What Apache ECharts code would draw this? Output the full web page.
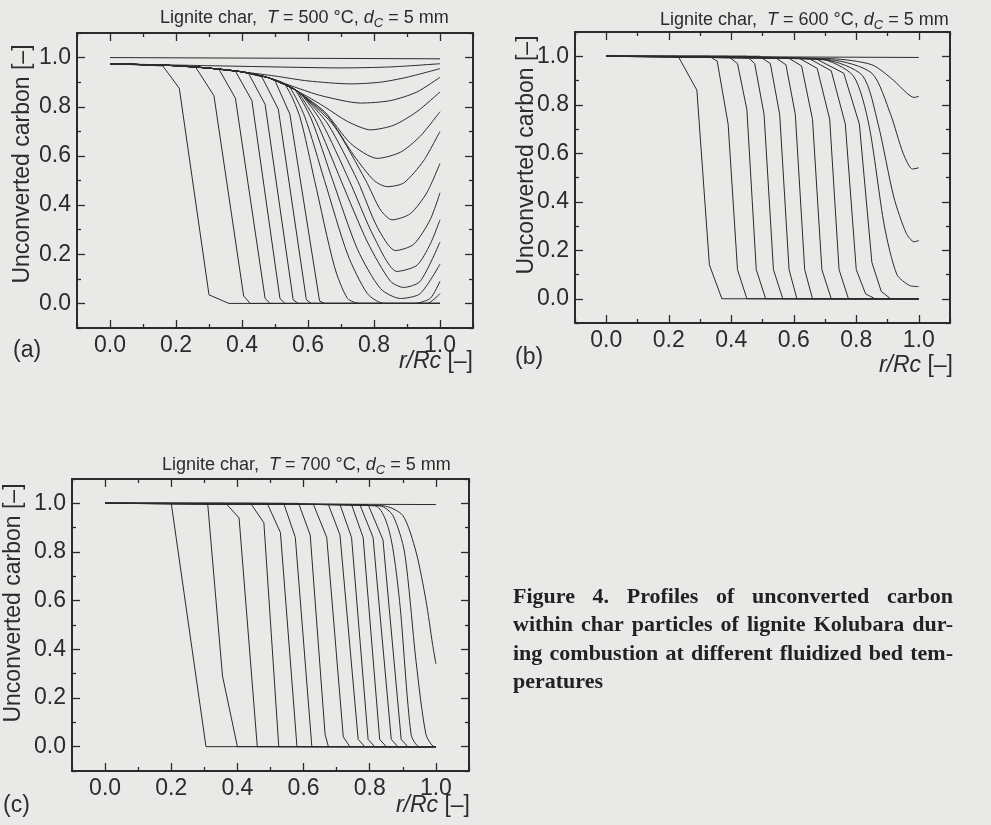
<!DOCTYPE html>
<html>
<head>
<meta charset="utf-8">
<script src="https://cdn.jsdelivr.net/npm/echarts@6/dist/echarts.min.js"></script>
<style>
  html, body { margin: 0; padding: 0; background: #e9e9e7; }
  #main { width: 991px; height: 825px; }
</style>
</head>
<body>
<div id="main"></div>
<script>
  // ---- data: profiles of unconverted carbon vs r/Rc ----
  // (a) 500 °C : shared upper path, then each profile's own tail
  var envA = [[0, 0.975], [0.2, 0.967], [0.3, 0.957], [0.4, 0.942], [0.48, 0.918], [0.53, 0.89], [0.56, 0.87], [0.58, 0.85]];
  var flatA = [[[0, 1.0], [1, 0.995]], [[0, 0.975], [0.3, 0.967], [0.5, 0.962], [0.7, 0.958], [0.85, 0.962], [1, 0.975]]];
  var tailsA = [
    [[0.4, 0.942], [0.5, 0.925], [0.6, 0.905], [0.73, 0.893], [0.82, 0.9], [0.9, 0.92], [1, 0.955]],
    [[0.48, 0.918], [0.56, 0.88], [0.64, 0.845], [0.76, 0.815], [0.85, 0.825], [0.93, 0.86], [1, 0.92]],
    [[0.53, 0.89], [0.6, 0.84], [0.65, 0.80], [0.72, 0.74], [0.79, 0.706], [0.86, 0.725], [0.93, 0.78], [1, 0.86]],
    [[0.56, 0.87], [0.65, 0.78], [0.73, 0.65], [0.81, 0.59], [0.88, 0.615], [0.94, 0.68], [1, 0.78]],
    [[0.58, 0.85], [0.66, 0.76], [0.74, 0.6], [0.80, 0.5], [0.84, 0.475], [0.89, 0.49], [0.95, 0.58], [1, 0.70]],
    [[0.59, 0.84], [0.68, 0.72], [0.775, 0.5], [0.82, 0.38], [0.855, 0.34], [0.91, 0.365], [0.96, 0.45], [1, 0.57]],
    [[0.585, 0.845], [0.66, 0.73], [0.75, 0.5], [0.81, 0.31], [0.865, 0.215], [0.92, 0.24], [0.97, 0.34], [1, 0.45]],
    [[0.58, 0.85], [0.64, 0.74], [0.725, 0.5], [0.80, 0.27], [0.87, 0.13], [0.93, 0.155], [0.97, 0.24], [1, 0.34]],
    [[0.57, 0.86], [0.625, 0.74], [0.70, 0.5], [0.78, 0.25], [0.85, 0.09], [0.89, 0.065], [0.94, 0.09], [1, 0.25]],
    [[0.56, 0.87], [0.61, 0.75], [0.675, 0.5], [0.75, 0.22], [0.82, 0.06], [0.88, 0.02], [0.94, 0.04], [1, 0.16]],
    [[0.545, 0.88], [0.59, 0.76], [0.65, 0.5], [0.72, 0.2], [0.78, 0.04], [0.83, 0.0], [0.92, 0.0], [0.97, 0.02], [1, 0.09]],
    [[0.53, 0.89], [0.575, 0.76], [0.62, 0.5], [0.68, 0.15], [0.72, 0.02], [0.76, 0], [0.96, 0], [1, 0.04]],
    [[0.50, 0.906], [0.545, 0.77], [0.635, 0.01], [0.65, 0], [1, 0]],
    [[0.46, 0.922], [0.51, 0.79], [0.595, 0.015], [0.61, 0], [1, 0]],
    [[0.42, 0.935], [0.47, 0.81], [0.555, 0.015], [0.57, 0], [1, 0]],
    [[0.38, 0.945], [0.43, 0.825], [0.515, 0.02], [0.53, 0], [1, 0]],
    [[0.33, 0.953], [0.38, 0.835], [0.47, 0.02], [0.485, 0], [1, 0]],
    [[0.26, 0.96], [0.315, 0.845], [0.405, 0.03], [0.425, 0], [1, 0]],
    [[0.16, 0.966], [0.21, 0.875], [0.30, 0.035], [0.36, 0], [1, 0]]
  ];

  // (b) 600 °C
  var curvesB = [
    [[0, 1], [1, 0.995]],
    [[0, 1], [0.23, 1], [0.29, 0.86], [0.33, 0.14], [0.37, 0], [1, 0]],
    [[0, 1], [0.33, 1], [0.355, 0.98], [0.39, 0.72], [0.42, 0.12], [0.45, 0], [1, 0]],
    [[0, 1], [0.39, 1], [0.42, 0.97], [0.45, 0.78], [0.48, 0.12], [0.51, 0], [1, 0]],
    [[0, 1], [0.45, 1], [0.475, 0.97], [0.505, 0.76], [0.535, 0.12], [0.565, 0], [1, 0]],
    [[0, 1], [0.49, 1], [0.525, 0.97], [0.555, 0.76], [0.585, 0.12], [0.61, 0], [1, 0]],
    [[0, 1], [0.54, 0.995], [0.575, 0.965], [0.605, 0.76], [0.635, 0.12], [0.66, 0], [1, 0]],
    [[0, 1], [0.58, 0.995], [0.625, 0.96], [0.66, 0.74], [0.69, 0.12], [0.72, 0], [1, 0]],
    [[0, 1], [0.62, 0.99], [0.675, 0.95], [0.715, 0.74], [0.745, 0.12], [0.775, 0], [1, 0]],
    [[0, 1], [0.65, 0.99], [0.72, 0.94], [0.765, 0.72], [0.80, 0.12], [0.83, 0.02], [0.86, 0], [1, 0]],
    [[0, 1], [0.67, 0.99], [0.76, 0.93], [0.81, 0.72], [0.85, 0.15], [0.88, 0.03], [0.91, 0], [1, 0]],
    [[0, 1], [0.68, 0.99], [0.79, 0.92], [0.84, 0.72], [0.89, 0.3], [0.93, 0.1], [0.97, 0.055], [1, 0.05]],
    [[0, 1], [0.7, 0.985], [0.82, 0.92], [0.87, 0.72], [0.92, 0.42], [0.96, 0.27], [0.985, 0.235], [1, 0.24]],
    [[0, 1], [0.72, 0.985], [0.85, 0.93], [0.91, 0.76], [0.95, 0.6], [0.98, 0.535], [1, 0.54]],
    [[0, 1], [0.72, 0.99], [0.85, 0.965], [0.92, 0.9], [0.96, 0.85], [0.985, 0.83], [1, 0.835]]
  ];

  // (c) 700 °C
  var curvesC = [
    [[0, 1], [1, 0.995]],
    [[0, 1], [0.2, 1], [0.305, 0], [1, 0]],
    [[0, 1], [0.31, 1], [0.355, 0.29], [0.40, 0], [1, 0]],
    [[0, 1], [0.365, 1], [0.405, 0.94], [0.46, 0], [1, 0]],
    [[0, 1], [0.44, 1], [0.48, 0.92], [0.525, 0], [1, 0]],
    [[0, 1], [0.49, 1], [0.53, 0.88], [0.58, 0], [1, 0]],
    [[0, 1], [0.54, 1], [0.575, 0.86], [0.625, 0], [1, 0]],
    [[0, 1], [0.585, 1], [0.62, 0.87], [0.665, 0.05], [0.675, 0], [1, 0]],
    [[0, 1], [0.63, 0.995], [0.67, 0.86], [0.72, 0.04], [0.74, 0], [1, 0]],
    [[0, 1], [0.675, 0.995], [0.71, 0.87], [0.765, 0.03], [0.785, 0], [1, 0]],
    [[0, 1], [0.71, 0.995], [0.745, 0.86], [0.795, 0.03], [0.815, 0], [1, 0]],
    [[0, 1], [0.745, 0.995], [0.78, 0.86], [0.83, 0.03], [0.85, 0], [1, 0]],
    [[0, 1], [0.77, 0.995], [0.81, 0.86], [0.865, 0.03], [0.885, 0], [1, 0]],
    [[0, 1], [0.795, 0.995], [0.84, 0.85], [0.895, 0.03], [0.915, 0], [1, 0]],
    [[0, 1], [0.815, 0.99], [0.86, 0.88], [0.89, 0.6], [0.925, 0.05], [0.95, 0], [1, 0]],
    [[0, 1], [0.83, 0.99], [0.87, 0.95], [0.905, 0.8], [0.94, 0.35], [0.97, 0.05], [0.995, 0], [1, 0]],
    [[0, 1], [0.84, 0.99], [0.9, 0.95], [0.94, 0.8], [0.97, 0.6], [0.99, 0.42], [1, 0.34]]
  ];

  // which curves of each panel are drawn as smooth curves (the rest are polylines)
  var smoothA = [1, 2, 3, 4, 5, 6, 7, 8, 9, 10, 11, 12, 13];
  var smoothB = [11, 12, 13, 14];
  var smoothC = [14, 15, 16];

  var temps = ['500', '600', '700'];
  var panelTags = ['(a)', '(b)', '(c)'];
  var captionLines = [
    'Figure 4. Profiles of unconverted carbon',
    'within char particles of lignite Kolubara dur-',
    'ing combustion at different fluidized bed tem-',
    'peratures'
  ];

  // ---- build ----
  var INK = '#2b2b2b';
  var SANS = '"Liberation Sans", Arial, sans-serif';

  function withEnv(tail) {
    return envA.filter(function (p) { return p[0] < tail[0][0]; }).concat(tail);
  }
  var curvesA = flatA.concat(tailsA.map(withEnv));

  var grids = [
    {left: 77, top: 33, width: 396, height: 295},
    {left: 575, top: 32, width: 375, height: 291},
    {left: 72, top: 479, width: 397, height: 292}
  ];
  var allCurves = [curvesA, curvesB, curvesC];
  var smoothSets = [smoothA, smoothB, smoothC];

  function evenLabel(v) {
    var k = Math.round(v * 10);
    return Math.abs(k % 2) === 0 ? (k / 10).toFixed(1) : '';
  }

  // frame + ticks: majors land on odd tenths (short), minor ticks on even tenths (long)
  function tickAxis(g, pos) {
    return {
      gridIndex: g, type: 'value', position: pos, min: -0.1, max: 1.1, interval: 0.2,
      axisLine: {show: true, onZero: false, lineStyle: {color: INK, width: 2}},
      axisTick: {show: true, inside: true, length: 4, lineStyle: {color: INK, width: 1.3}},
      minorTick: {show: true, splitNumber: 2, length: 8, lineStyle: {color: INK, width: 1.3}},
      axisLabel: {show: false},
      splitLine: {show: false}, minorSplitLine: {show: false}
    };
  }
  function labelAxis(g, pos) {
    return {
      gridIndex: g, type: 'value', position: pos, min: -0.1, max: 1.1, interval: 0.1,
      axisLine: {show: false, onZero: false},
      axisTick: {show: false},
      axisLabel: {formatter: evenLabel, fontSize: 23, fontFamily: SANS, color: INK, margin: 6},
      splitLine: {show: false}
    };
  }

  var xAxes = [], yAxes = [], series = [], graphics = [];
  grids.forEach(function (gr, g) {
    xAxes.push(tickAxis(g, 'bottom'), tickAxis(g, 'top'), labelAxis(g, 'bottom'));
    yAxes.push(tickAxis(g, 'left'), tickAxis(g, 'right'), labelAxis(g, 'left'));
    allCurves[g].forEach(function (c, ci) {
      var sm = smoothSets[g].indexOf(ci) >= 0;
      series.push({
        type: 'line', xAxisIndex: g * 3 + 2, yAxisIndex: g * 3 + 2, data: c,
        showSymbol: false, symbol: 'none', silent: true,
        smooth: sm ? 0.25 : false,
        lineStyle: {color: INK, width: 1}
      });
    });
  });

  var titleRich = {
    n: {fontSize: 18, fontFamily: SANS, fill: INK},
    i: {fontSize: 18, fontFamily: SANS, fontStyle: 'italic', fill: INK},
    s: {fontSize: 13, fontFamily: SANS, fontStyle: 'italic', fill: INK, padding: [11, 0, 0, 0]}
  };
  var titlePos = [[160, 18], [660, 20], [162, 465]];
  titlePos.forEach(function (p, g) {
    graphics.push({
      type: 'text', x: p[0], y: p[1],
      style: {
        text: '{n|Lignite char,  }{i|T}{n| = ' + temps[g] + ' °C, }{i|d}{s|C}{n| = 5 mm}',
        rich: titleRich, align: 'left', verticalAlign: 'middle'
      }
    });
  });

  var axRich = {
    n: {fontSize: 23, fontFamily: SANS, fill: INK},
    i: {fontSize: 23, fontFamily: SANS, fontStyle: 'italic', fill: INK}
  };
  [[473, 362], [953, 366], [470, 806]].forEach(function (p) {
    graphics.push({
      type: 'text', x: p[0], y: p[1],
      style: {text: '{i|r/Rc}{n| [–]}', rich: axRich, align: 'right', verticalAlign: 'middle'}
    });
  });
  [[23, 164], [527, 155], [14, 603]].forEach(function (p) {
    graphics.push({
      type: 'text', x: p[0], y: p[1], rotation: Math.PI / 2,
      style: {text: 'Unconverted carbon [–]', fontSize: 23, fontFamily: SANS, fill: INK,
        align: 'center', verticalAlign: 'middle'}
    });
  });
  [[13, 351], [515, 358], [3, 806]].forEach(function (p, g) {
    graphics.push({
      type: 'text', x: p[0], y: p[1],
      style: {text: panelTags[g], fontSize: 23, fontFamily: SANS, fill: INK,
        align: 'left', verticalAlign: 'middle'}
    });
  });

  // caption, justified between x=513 and x=953
  var capFont = 'bold 22px "Liberation Serif"';
  var ctx = document.createElement('canvas').getContext('2d');
  ctx.font = capFont;
  var capLeft = 513, capWidth = 440, capY = [597, 625.5, 654, 682.5];
  captionLines.forEach(function (line, li) {
    var words = line.split(' ');
    var last = li === captionLines.length - 1;
    var widths = words.map(function (w) { return ctx.measureText(w).width; });
    var total = widths.reduce(function (a, b) { return a + b; }, 0);
    var gap = last ? ctx.measureText(' ').width : (capWidth - total) / (words.length - 1);
    var x = capLeft;
    words.forEach(function (w, wi) {
      graphics.push({
        type: 'text', x: x, y: capY[li],
        style: {text: w, font: capFont, fill: '#222', align: 'left', verticalAlign: 'middle'}
      });
      x += widths[wi] + gap;
    });
  });

  var chart = echarts.init(document.getElementById('main'));
  chart.setOption({
    backgroundColor: '#e9e9e7',
    animation: false,
    grid: grids,
    xAxis: xAxes,
    yAxis: yAxes,
    series: series,
    graphic: graphics
  });
</script>
</body>
</html>
